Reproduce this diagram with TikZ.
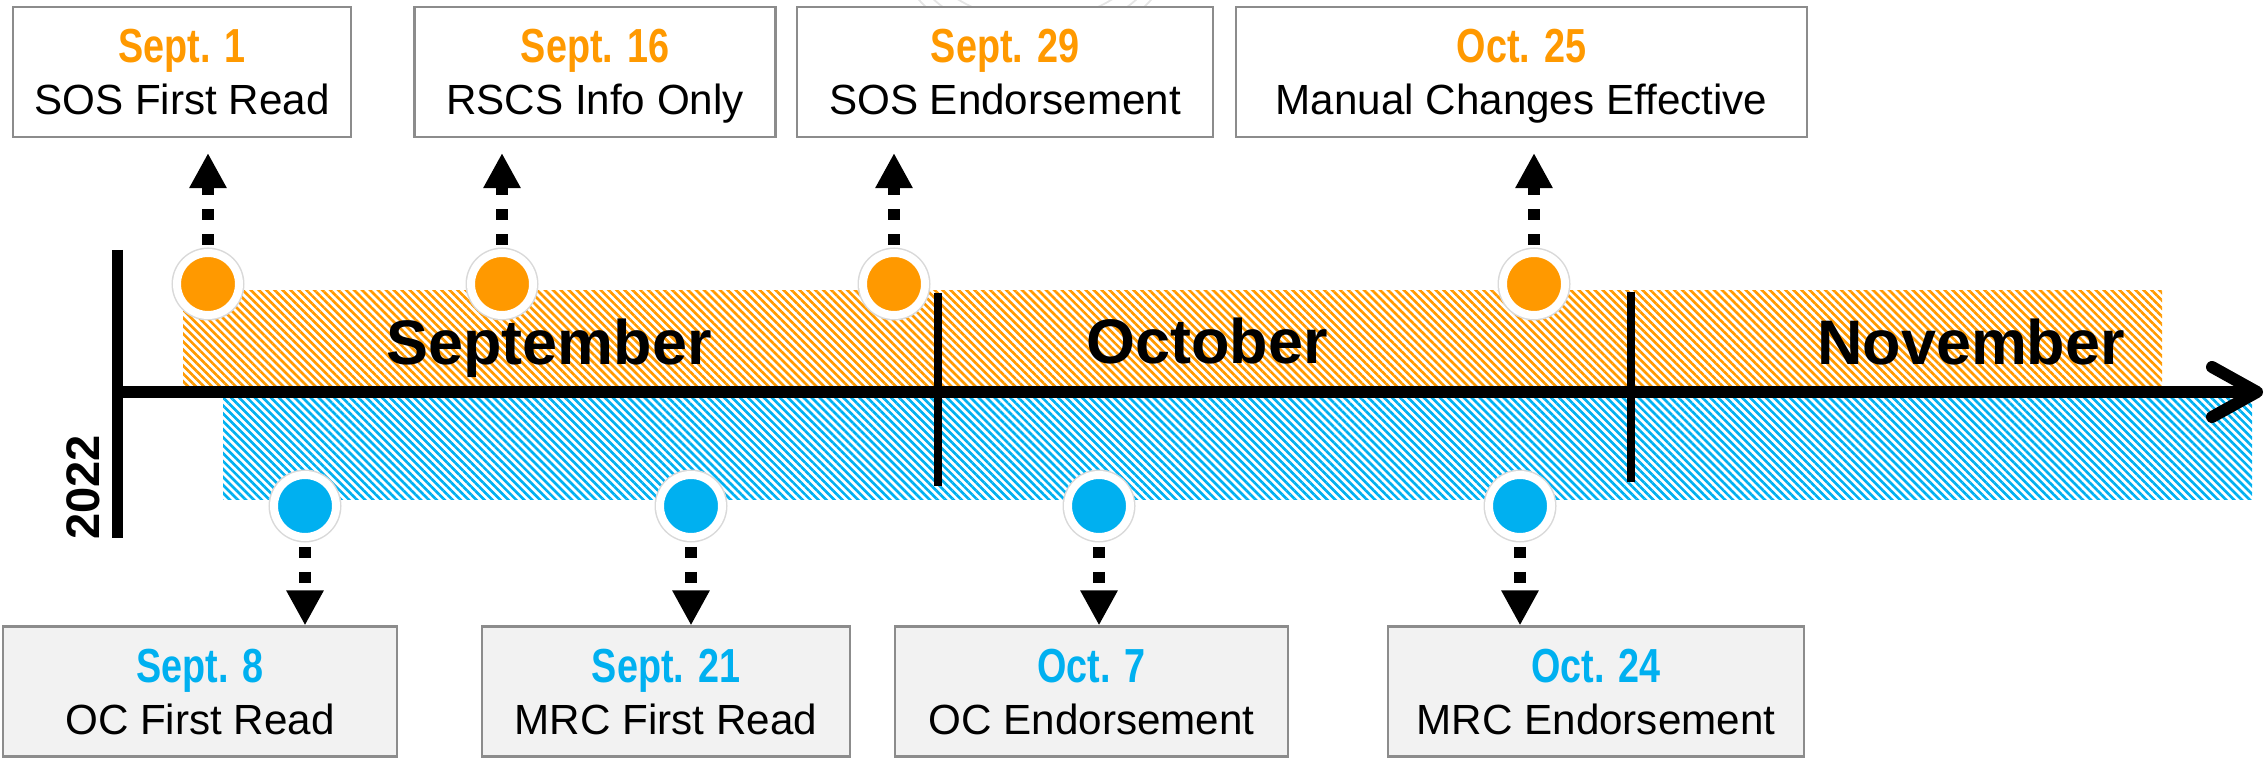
\documentclass[tikz,border=0pt]{standalone}
\usepackage{fontspec}
\setmainfont{Liberation Sans}
\newfontfamily\narrowfont[FakeStretch=0.79]{Liberation Sans}
\usetikzlibrary{arrows.meta,patterns.meta}
\definecolor{sosorange}{HTML}{FF9900}
\definecolor{ocblue}{HTML}{00B0F0}
\definecolor{boxgray}{HTML}{F2F2F2}
\definecolor{rimgray}{HTML}{8C8C8C}
\newcommand{\datetext}[2]{{\narrowfont\bfseries\fontsize{13.6}{14.8}\selectfont\color{#1}#2}}
\begin{document}
\begin{tikzpicture}[x=1cm,y=-1cm,
        evbox/.style={draw=rimgray,line width=0.6pt,minimum height=1.3cm,inner sep=0pt,
            align=center,text depth=0pt,font=\fontsize{12}{14.8}\selectfont},
        topbox/.style={evbox,fill=white},
        lowbox/.style={evbox,fill=boxgray},
        milestone/.style={circle,fill=#1,draw=white,line width=0.08cm,minimum size=0.62cm,
            inner sep=0pt,preaction={draw=black!15,line width=0.11cm}},
        evlink/.style={line width=0.12cm,dash pattern=on 0.11cm off 0.14cm,
            -{Triangle[length=0.35cm,width=0.35cm]}},
        monthlabel/.style={font=\fontsize{17.9}{20}\selectfont\bfseries,anchor=base},
        hatch/.style={pattern={Lines[angle=-45,distance=1.6pt,line width=0.75pt]},pattern color=#1}]
    \useasboundingbox (0,0) rectangle (22.67,7.63);
    % hatched bands
    \fill[hatch=sosorange] (1.83,2.91) rectangle (21.62,3.87);
    \fill[hatch=ocblue] (2.23,3.98) rectangle (22.52,5.00);
    % faint watermark
    \begin{scope}
        \clip (0,0) rectangle (22.67,7.63);
        \draw[black!10,line width=0.5pt] (10.35,-0.6) ellipse [x radius=1.4,y radius=1.07];
        \draw[black!10,line width=0.5pt] (10.35,-0.6) ellipse [x radius=1.3,y radius=0.95];
        \draw[black!10,line width=0.5pt] (10.35,-0.6) ellipse [x radius=1.15,y radius=0.8];
    \end{scope}
    % time axis
    \draw[line width=0.11cm] (1.17,2.50) -- (1.17,5.38);
    \draw[line width=0.12cm,-{Straight Barb[length=0.45cm,width=0.5cm,round]}] (1.17,3.92) -- (22.63,3.92);
    \draw[line width=0.075cm] (9.38,2.93) -- (9.38,4.86);
    \draw[line width=0.075cm] (16.31,2.92) -- (16.31,4.82);
    \node[monthlabel] (sep) at (5.49,3.65) {September};
    \node[monthlabel] (oct) at (12.07,3.64) {October};
    \node[monthlabel] (nov) at (19.71,3.65) {November};
    \node[font=\fontsize{13.4}{14}\selectfont\bfseries,rotate=90,inner sep=0pt] (year) at (0.83,4.875) {2022};
    % SOS / RSCS events above
    \foreach \n/\dx/\bx/\bw/\dt/\tx in {1/2.08/1.82/3.38/Sept. 1/SOS First Read,
            2/5.02/5.95/3.61/Sept. 16/RSCS Info Only,
            3/8.94/10.05/4.16/Sept. 29/SOS Endorsement,
            4/15.34/15.215/5.71/Oct. 25/Manual Changes Effective}{
        \node[milestone=sosorange] (td\n) at (\dx,2.84) {};
        \node[topbox,minimum width=\bw cm] (t\n) at (\bx,0.72) {\datetext{sosorange}{\dt}\\\tx};
        \draw[evlink,shorten <=0.04cm,shorten >=0.15cm] (td\n.north) -- (td\n.north |- t\n.south);
    }
    % OC / MRC events below
    \foreach \n/\dx/\bx/\bw/\dt/\tx in {1/3.05/2.00/3.94/Sept. 8/OC First Read,
            2/6.91/6.66/3.68/Sept. 21/MRC First Read,
            3/10.99/10.915/3.93/Oct. 7/OC Endorsement,
            4/15.20/15.96/4.16/Oct. 24/MRC Endorsement}{
        \node[milestone=ocblue] (bd\n) at (\dx,5.06) {};
        \node[lowbox,minimum width=\bw cm] (b\n) at (\bx,6.915) {\datetext{ocblue}{\dt}\\\tx};
        \draw[evlink,shorten <=0.06cm] (bd\n.south) -- (bd\n.south |- b\n.north);
    }
\end{tikzpicture}
\end{document}
